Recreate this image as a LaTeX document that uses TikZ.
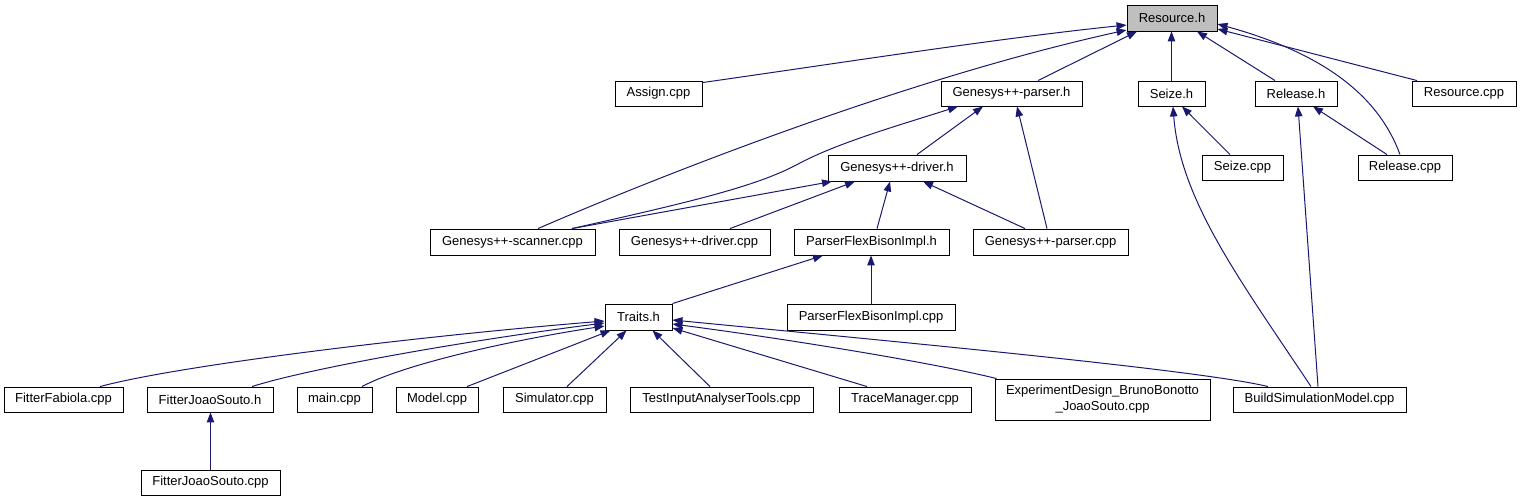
\documentclass[tikz,border=0pt]{standalone}
\usepackage{fontspec}
\setmainfont{Liberation Sans}
\usetikzlibrary{arrows.meta}
\definecolor{edgec}{HTML}{191970}
\definecolor{rootfill}{HTML}{BFBFBF}
\newcommand\mkbox[7][]{\node[nbox,#1,minimum width={(#5)-(#3)},minimum height={(#6)-(#4)}] (#2) at ({((#3)+(#5))/2},{((#4)+(#6))/2}) {#7};}
\begin{document}
\begin{tikzpicture}[x=1pt,y=-1pt,
  nbox/.style={draw=black,line width=0.9pt,fill=white,inner sep=0pt,align=center,font=\fontsize{13}{16}\selectfont},
  edge/.style={draw=edgec,line width=1pt,-{Triangle[length=10pt,width=7.5pt]}}]
\useasboundingbox (0,0) rectangle (1520,501);
% nodes
\mkbox[fill=rootfill]{res}{1127}{5}{1217}{31}{Resource.h}
\mkbox{assign}{615}{81}{702}{106}{Assign.cpp}
\mkbox{parserh}{941}{81}{1082}{106}{Genesys++-parser.h}
\mkbox{seizeh}{1138}{81}{1205}{106}{Seize.h}
\mkbox{releaseh}{1255}{81}{1337}{106}{Release.h}
\mkbox{rescpp}{1412}{81}{1516}{106}{Resource.cpp}
\mkbox{driverh}{828}{155}{966}{181}{Genesys++-driver.h}
\mkbox{seizecpp}{1202}{155}{1283}{180}{Seize.cpp}
\mkbox{releasecpp}{1358}{155}{1452}{180}{Release.cpp}
\mkbox{scanner}{430}{229}{595}{255}{Genesys++-scanner.cpp}
\mkbox{drivercpp}{619}{229}{770}{255}{Genesys++-driver.cpp}
\mkbox{pfbh}{794}{229}{949}{255}{ParserFlexBisonImpl.h}
\mkbox{parsercpp}{973}{229}{1128}{255}{Genesys++-parser.cpp}
\mkbox{traits}{605}{304}{672}{330}{Traits.h}
\mkbox{pfbcpp}{787}{304}{955}{330}{ParserFlexBisonImpl.cpp}
\mkbox{ffab}{4}{387}{123}{412}{FitterFabiola.cpp}
\mkbox{fjsh}{147}{387}{273}{412}{FitterJoaoSouto.h}
\mkbox{main}{297}{387}{372}{412}{main.cpp}
\mkbox{model}{396}{387}{478}{412}{Model.cpp}
\mkbox{sim}{503}{387}{606}{412}{Simulator.cpp}
\mkbox{test}{630}{387}{813}{412}{TestInputAnalyserTools.cpp}
\mkbox{trace}{839}{387}{971}{412}{TraceManager.cpp}
\mkbox{exp}{995}{379}{1210}{420}{ExperimentDesign\_BrunoBonotto\\\_JoaoSouto.cpp}
\mkbox{build}{1233}{387}{1406}{412}{BuildSimulationModel.cpp}
\mkbox{fjscpp}{141}{470}{280}{495}{FitterJoaoSouto.cpp}
% edges to Resource.h
\draw[edge] ([yshift=-2]assign.north east) .. controls (840,63) and (1000,38) .. ([yshift=-7]res.west);
\draw[edge] ([xshift=25.5]scanner.north) .. controls (650,180) and (900,80) .. ([yshift=-12]res.west);
\draw[edge] ([xshift=26.5]parserh.north) -- ([xshift=-35]res.south);
\draw[edge] (seizeh.north) -- (seizeh.north |- res.south);
\draw[edge] ([xshift=-21]releaseh.north) -- ([xshift=25]res.south);
\draw[edge] ([xshift=-5]releasecpp.north) .. controls (1380,100) and (1330,55) .. ([yshift=-6]res.east);
\draw[edge] ([xshift=-47]rescpp.north) -- ([yshift=-11]res.east);
% edges to Genesys++-parser.h
\draw[edge] ([xshift=59.5]scanner.north) .. controls (700,200) and (760,185) .. (800,163) .. controls (840,142) and (900,125) .. ([xshift=-53.5]parserh.south);
\draw[edge] ([xshift=20]driverh.north) -- ([xshift=-28.5]parserh.south);
\draw[edge] ([xshift=-3.5]parsercpp.north) -- ([xshift=5.5]parserh.south);
% edges to Genesys++-driver.h
\draw[edge] ([xshift=59.5]scanner.north) -- ([xshift=-65]driverh.south);
\draw[edge] ([xshift=35.5]drivercpp.north) -- ([xshift=-42]driverh.south);
\draw[edge] ([xshift=5.5]pfbh.north) -- ([xshift=-7]driverh.south);
\draw[edge] ([xshift=-25.5]parsercpp.north) -- ([xshift=26]driverh.south);
% edges to ParserFlexBisonImpl.h
\draw[edge] (traits.north east) -- ([xshift=-48.5]pfbh.south);
\draw[edge] (pfbcpp.north) -- (pfbcpp.north |- pfbh.south);
% edges to Traits.h
\draw[edge] ([xshift=36.5]ffab.north) .. controls (180,365) and (420,336) .. ([yshift=-4]traits.west);
\draw[edge] ([xshift=42]fjsh.north) .. controls (310,368) and (470,340) .. ([yshift=-6]traits.west);
\draw[edge] ([xshift=27.5]main.north) .. controls (400,366) and (500,342) .. ([yshift=-9]traits.west);
\draw[edge] ([xshift=30]model.north) -- ([xshift=-28]traits.south);
\draw[edge] ([xshift=12.5]sim.north) -- ([xshift=-12]traits.south);
\draw[edge] ([xshift=-11.5]test.north) -- ([xshift=14]traits.south);
\draw[edge] ([xshift=-38]trace.north) -- ([yshift=-11]traits.east);
\draw[edge] ([xshift=2]exp.north west) .. controls (930,362) and (780,338) .. ([yshift=-7]traits.east);
\draw[edge] ([xshift=-51.5]build.north) .. controls (1200,370) and (900,342) .. ([yshift=-3]traits.east);
% edges to Seize.h / Release.h
\draw[edge] ([xshift=-12.5]seizecpp.north) -- ([xshift=10.5]seizeh.south);
\draw[edge] ([xshift=-8.5]build.north) .. controls (1240,280) and (1180,200) .. ([xshift=1.5]seizeh.south);
\draw[edge] ([xshift=-18]releasecpp.north) -- ([xshift=17]releaseh.south);
\draw[edge] ([xshift=-1.5]build.north) -- ([xshift=2]releaseh.south);
% FitterJoaoSouto
\draw[edge] (fjscpp.north) -- (fjscpp.north |- fjsh.south);
\end{tikzpicture}
\end{document}
